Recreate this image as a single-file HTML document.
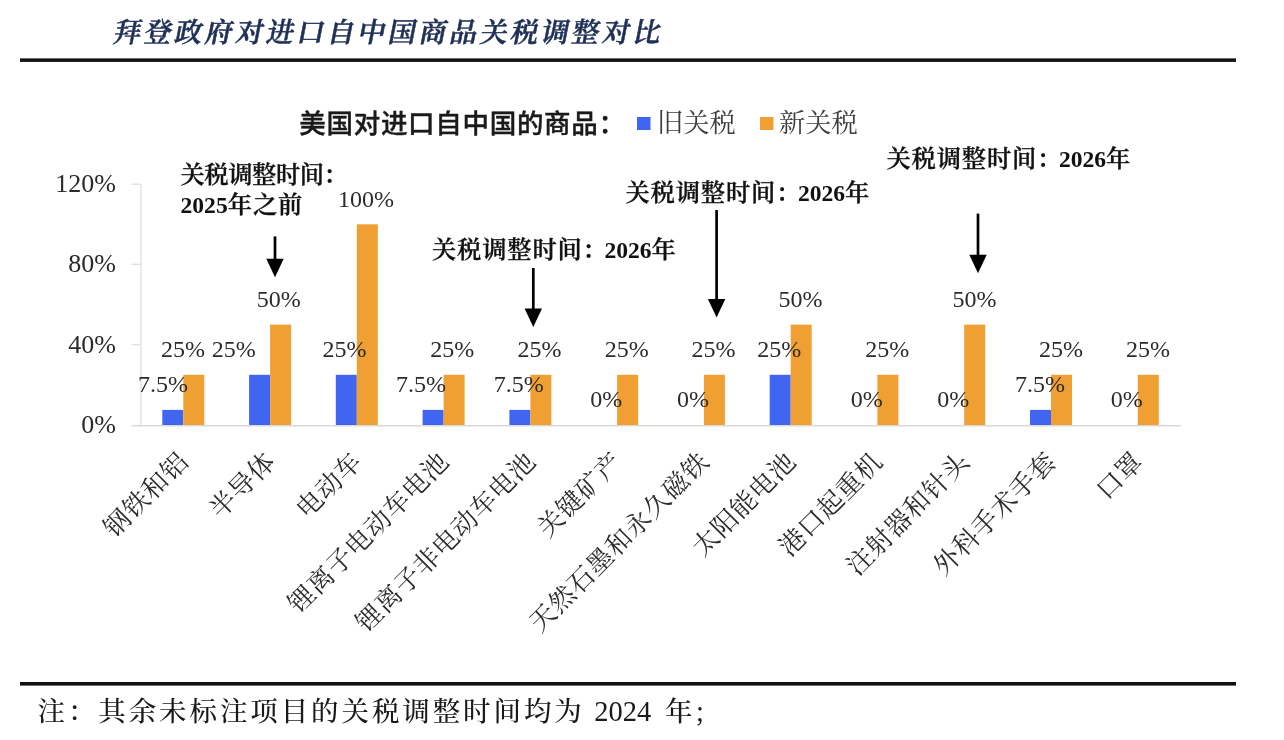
<!DOCTYPE html>
<html lang="zh-CN"><head><meta charset="utf-8"><title>拜登政府对进口自中国商品关税调整对比</title>
<style>html,body{margin:0;padding:0;background:#fff}body{width:1284px;height:740px;overflow:hidden;position:relative}svg{position:absolute;left:0;top:0;display:block;filter:blur(0.45px)}
.s{font-family:"Liberation Serif","Noto Serif CJK SC",serif}.h{font-family:"Liberation Sans","Noto Sans CJK SC",sans-serif}
</style></head><body>
<svg width="1284" height="740" viewBox="0 0 1284 740">
<rect width="1284" height="740" fill="#fff"/>
<text class="s" transform="translate(112.5,42) skewX(-11)" font-size="27.5" font-weight="600" fill="#1f3057" stroke="#1f3057" stroke-width="0.55" letter-spacing="3.05">拜登政府对进口自中国商品关税调整对比</text>
<rect x="20" y="58.4" width="1216" height="3.5" fill="#111"/>
<rect x="20" y="682" width="1216" height="3.6" fill="#111"/>
<g class="s" font-size="27.5" font-weight="500" fill="#1a1a1a">
<text x="37.5" y="721" letter-spacing="2.9">注：其余未标注项目的关税调整时间均为</text>
<text x="594.3" y="721" font-size="28.5">2024</text>
<text x="665" y="721">年</text>
<text x="696" y="721" font-size="28.5">;</text>
</g>
<text class="h" x="299.3" y="133.2" font-size="26.5" font-weight="500" fill="#1a1a1a" stroke="#1a1a1a" stroke-width="0.4" letter-spacing="0.7">美国对进口自中国的商品：</text>
<rect x="637" y="117" width="13.5" height="13" fill="#4065f0"/>
<text class="s" x="657" y="132" font-size="26.3" fill="#3d3d3d">旧关税</text>
<rect x="760" y="117" width="13.5" height="13" fill="#f0a033"/>
<text class="s" x="779" y="132" font-size="26.3" fill="#3d3d3d">新关税</text>
<g stroke="#d9d9d9" stroke-width="1.6" fill="none">
<path d="M141 184.2 V425.8" stroke="#e2e2e2" stroke-width="1.4"/>
<path d="M131.5 425.8 H1181"/>
<path stroke="#e2e2e2" stroke-width="1.4" d="M131.5 344.7 H141"/>
<path stroke="#e2e2e2" stroke-width="1.4" d="M131.5 264.4 H141"/>
<path stroke="#e2e2e2" stroke-width="1.4" d="M131.5 184.2 H141"/>
</g>
<g class="s" font-size="26" fill="#2b2b2b" text-anchor="end">
<text x="116" y="433.0">0%</text>
<text x="116" y="352.7">40%</text>
<text x="116" y="272.4">80%</text>
<text x="116" y="192.2">120%</text>
</g>
<rect x="162.3" y="409.9" width="21.0" height="15.1" fill="#4065f0"/>
<rect x="183.3" y="374.8" width="21.0" height="50.2" fill="#f0a033"/>
<rect x="249.1" y="374.8" width="21.0" height="50.2" fill="#4065f0"/>
<rect x="270.1" y="324.6" width="21.0" height="100.4" fill="#f0a033"/>
<rect x="335.8" y="374.8" width="21.0" height="50.2" fill="#4065f0"/>
<rect x="356.8" y="224.3" width="21.0" height="200.7" fill="#f0a033"/>
<rect x="422.6" y="409.9" width="21.0" height="15.1" fill="#4065f0"/>
<rect x="443.6" y="374.8" width="21.0" height="50.2" fill="#f0a033"/>
<rect x="509.4" y="409.9" width="21.0" height="15.1" fill="#4065f0"/>
<rect x="530.4" y="374.8" width="21.0" height="50.2" fill="#f0a033"/>
<rect x="617.1" y="374.8" width="21.0" height="50.2" fill="#f0a033"/>
<rect x="703.9" y="374.8" width="21.0" height="50.2" fill="#f0a033"/>
<rect x="769.7" y="374.8" width="21.0" height="50.2" fill="#4065f0"/>
<rect x="790.7" y="324.6" width="21.0" height="100.4" fill="#f0a033"/>
<rect x="877.4" y="374.8" width="21.0" height="50.2" fill="#f0a033"/>
<rect x="964.2" y="324.6" width="21.0" height="100.4" fill="#f0a033"/>
<rect x="1030.0" y="409.9" width="21.0" height="15.1" fill="#4065f0"/>
<rect x="1051.0" y="374.8" width="21.0" height="50.2" fill="#f0a033"/>
<rect x="1137.8" y="374.8" width="21.0" height="50.2" fill="#f0a033"/>
<g class="s" font-size="24" fill="#2b2b2b" text-anchor="middle">
<text x="163.0" y="391.7">7.5%</text>
<text x="183.0" y="357.2">25%</text>
<text x="233.8" y="357.3">25%</text>
<text x="278.8" y="307.0">50%</text>
<text x="344.5" y="357.3">25%</text>
<text x="366.0" y="206.7">100%</text>
<text x="421.0" y="391.7">7.5%</text>
<text x="452.3" y="357.2">25%</text>
<text x="518.7" y="391.7">7.5%</text>
<text x="539.5" y="357.2">25%</text>
<text x="606.3" y="407.3">0%</text>
<text x="626.7" y="357.2">25%</text>
<text x="693.0" y="407.3">0%</text>
<text x="713.5" y="357.2">25%</text>
<text x="779.2" y="357.3">25%</text>
<text x="800.5" y="307.0">50%</text>
<text x="866.7" y="407.3">0%</text>
<text x="887.2" y="357.2">25%</text>
<text x="953.3" y="407.3">0%</text>
<text x="974.5" y="307.0">50%</text>
<text x="1040.0" y="391.7">7.5%</text>
<text x="1061.0" y="357.2">25%</text>
<text x="1126.7" y="407.3">0%</text>
<text x="1148.0" y="357.2">25%</text>
</g>
<g class="s" font-size="26" fill="#2b2b2b" text-anchor="end" letter-spacing="0.8">
<text transform="translate(190.3,463.0) rotate(-45)">钢铁和铝</text>
<text transform="translate(277.1,463.0) rotate(-45)">半导体</text>
<text transform="translate(363.8,463.0) rotate(-45)">电动车</text>
<text transform="translate(450.6,463.0) rotate(-45)">锂离子电动车电池</text>
<text transform="translate(537.4,463.0) rotate(-45)">锂离子非电动车电池</text>
<text transform="translate(624.1,463.0) rotate(-45)">关键矿产</text>
<text transform="translate(710.9,463.0) rotate(-45)">天然石墨和永久磁铁</text>
<text transform="translate(797.7,463.0) rotate(-45)">太阳能电池</text>
<text transform="translate(884.4,463.0) rotate(-45)">港口起重机</text>
<text transform="translate(971.2,463.0) rotate(-45)">注射器和针头</text>
<text transform="translate(1058.0,463.0) rotate(-45)">外科手术手套</text>
<text transform="translate(1144.8,463.0) rotate(-45)">口罩</text>
</g>
<g class="s" font-size="24.3" font-weight="600" fill="#111" stroke="#111" stroke-width="0.3">
<text x="180.5" y="182.7" letter-spacing="-0.45">关税调整时间：</text>
<text y="212.9"><tspan x="180.5" font-size="23.6" font-weight="700" stroke="none">2025</tspan><tspan x="227.8" letter-spacing="0.8">年之前</tspan></text>
<text y="258.2"><tspan x="432.0" letter-spacing="0.8">关税调整时间：</tspan><tspan x="604.4" font-size="23.6" font-weight="700" stroke="none">2026</tspan><tspan x="651.6">年</tspan></text>
<text y="201.0"><tspan x="625.5" letter-spacing="0.8">关税调整时间：</tspan><tspan x="797.9" font-size="23.6" font-weight="700" stroke="none">2026</tspan><tspan x="845.1">年</tspan></text>
<text y="167.0"><tspan x="886.5" letter-spacing="0.8">关税调整时间：</tspan><tspan x="1058.9" font-size="23.6" font-weight="700" stroke="none">2026</tspan><tspan x="1106.1">年</tspan></text>
</g>
<path d="M275.0 236.4 V262.2" stroke="#000" stroke-width="2.7" fill="none"/>
<path d="M266.3 258.7 L283.7 258.7 L275.0 277.2 Z" fill="#000"/>
<path d="M533.3 268.0 V312.0" stroke="#000" stroke-width="2.7" fill="none"/>
<path d="M524.6 308.5 L542.0 308.5 L533.3 327.0 Z" fill="#000"/>
<path d="M716.6 210.0 V302.6" stroke="#000" stroke-width="2.7" fill="none"/>
<path d="M707.9 299.1 L725.3 299.1 L716.6 317.6 Z" fill="#000"/>
<path d="M978.0 213.6 V258.2" stroke="#000" stroke-width="2.7" fill="none"/>
<path d="M969.3 254.7 L986.7 254.7 L978.0 273.2 Z" fill="#000"/>
</svg></body></html>
